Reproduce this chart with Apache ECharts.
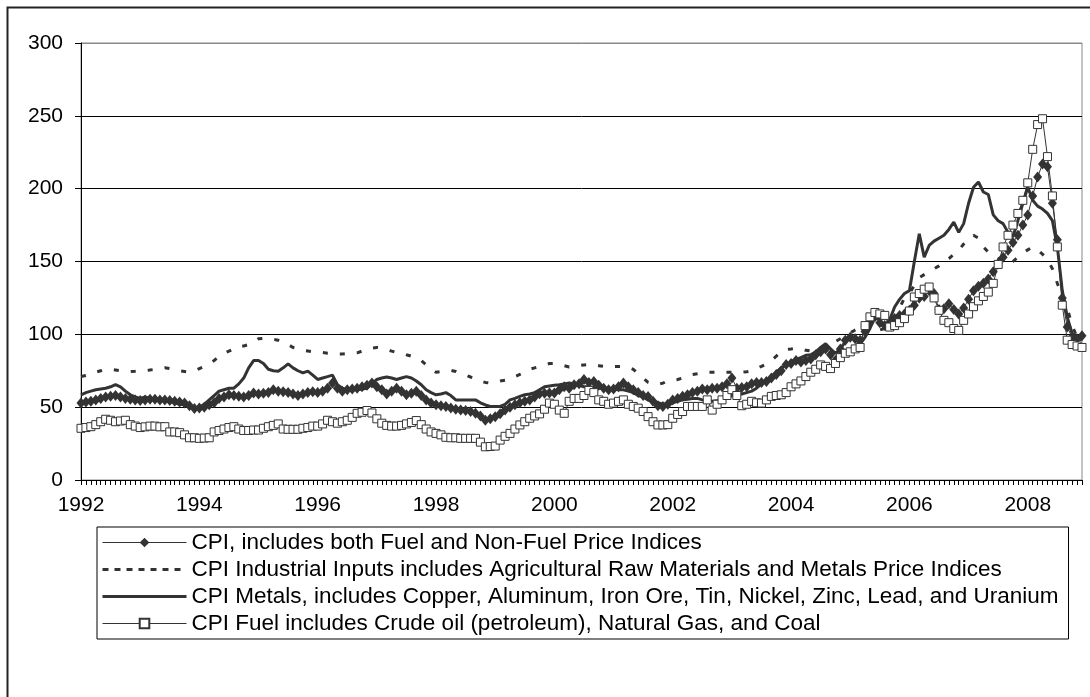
<!DOCTYPE html>
<html>
<head>
<meta charset="utf-8">
<script src="https://cdn.jsdelivr.net/npm/echarts@6/dist/echarts.min.js"></script>
<style>
  html, body { margin: 0; padding: 0; background: #fff; }
  #chart { width: 1090px; height: 697px; }
</style>
</head>
<body>
<div id="chart"></div>
<script>
    // years shown on the axis, one category per month
    var years = [1992, 1993, 1994, 1995, 1996, 1997, 1998, 1999, 2000, 2001, 2002, 2003, 2004, 2005, 2006, 2007, 2008];
    var months = [];
    years.forEach(function (y) {
        for (var m = 1; m <= 12; m++) {
            months.push(y + '-' + (m < 10 ? '0' : '') + m);
        }
    });

    var names = [
        'CPI, includes both Fuel and Non-Fuel Price Indices',
        'CPI Industrial Inputs includes Agricultural Raw Materials and Metals Price Indices',
        'CPI Metals, includes Copper, Aluminum, Iron Ore, Tin, Nickel, Zinc, Lead, and Uranium',
        'CPI Fuel includes Crude oil (petroleum), Natural Gas, and Coal'
    ];

    // one row per year, Jan..Dec
    var cpiAll = [
        52.8, 53.5, 54, 55, 56, 57, 57.5, 58, 57, 56, 55.5, 55,
        54.6, 55, 55.5, 55.5, 55, 55, 54.5, 54, 53.5, 52.8, 51, 49,
        49.5, 50, 51.6, 53, 56, 57, 58.5, 58, 57.5, 57, 58, 59.7,
        59, 59.5, 60, 62, 61, 60.5, 60, 59, 58, 59, 60, 60.5,
        60, 61, 63, 66.6, 63, 61, 62, 62.5, 63, 64, 65, 66.6,
        64, 62, 59, 61, 63, 61, 58.5, 59.5, 61, 58, 55, 52.8,
        51.6, 51, 50.5, 49.5, 48.6, 48, 47.7, 47, 45.8, 44, 41, 42,
        43.5, 45.5, 48, 50, 51.6, 53, 54, 55, 57, 59.2, 59.5, 59.7,
        59.7, 62, 64, 63, 65.4, 66, 69, 67, 67.7, 65, 63, 62,
        62.4, 64, 66.6, 64, 62, 60, 58, 57.4, 54, 51, 50.5, 52,
        55, 56, 57.5, 58.5, 60, 61, 62.4, 62, 63, 63, 64, 66,
        70, 63, 63.5, 64, 66, 67, 67, 67.7, 70, 72.4, 75, 79.3,
        80, 82, 81, 82, 83, 86, 88, 90, 86, 82, 90, 96,
        98, 97, 96, 102, 108, 112, 108, 106, 108, 110.8, 113, 114,
        116.5, 120, 125, 126, 130, 128, 117, 117.6, 121, 117, 114, 118,
        124, 130, 133, 135, 138, 143, 148.5, 153, 157.7, 163, 168, 175,
        182, 195, 208, 217, 215, 190, 165, 125, 105, 98, 97, 99
    ];
    var cpiIndustrial = [
        71, 71.7, 72.5, 74, 75, 76, 76, 75.5, 75, 74.7, 74.5, 74.7,
        75, 75, 75.5, 76, 76.5, 77, 76.5, 76, 75, 74.5, 74, 75,
        76.5, 78, 80, 82, 85, 87, 88.5, 90, 92, 92, 93, 95,
        97, 97.2, 97, 96.5, 96, 95, 93, 91, 90, 89, 88.5, 88,
        87.8, 87.5, 87, 86.8, 86.6, 86.5, 86.8, 87, 87.3, 88.5, 89.5, 90.5,
        91, 90.5, 89.5, 88.5, 87.5, 87.3, 86, 85, 83, 82, 79, 76,
        74, 74.5, 75, 75.3, 74.5, 73, 72, 70.7, 69, 68, 67, 66.6,
        67, 68, 68.5, 69.4, 71, 72.5, 74, 76, 77, 78, 79, 80,
        80, 79, 78.5, 77.6, 78, 78.5, 79, 79.3, 79, 78.5, 78, 78,
        78, 78, 78, 77.5, 76, 73, 70, 67, 66, 65.5, 66.5, 68,
        68.4, 69, 70, 71, 72.4, 73, 73.5, 74, 74, 74, 74, 74,
        74, 74, 74, 74.3, 75, 76.5, 78, 79.7, 82, 85, 88, 89.6,
        90, 90.5, 90, 89, 88.6, 89, 90, 91.5, 93, 95, 97, 99,
        101, 103, 105, 108, 106, 104, 103, 104, 108, 112, 118, 125,
        128, 133.6, 139, 141, 143, 145, 147, 150, 152, 155, 157.7, 162,
        165, 168, 166, 160, 156.5, 154, 152, 150, 148.5, 150, 153, 156,
        158, 160, 158, 155, 151, 145, 135, 127, 118, 106, 98, 96
    ];
    var cpiMetals = [
        58.5, 60, 61, 62, 62.5, 63, 64, 65.5, 64, 61, 58.5, 57,
        56, 57, 56, 55, 55, 54, 54, 53, 52, 51.6, 50, 49,
        50, 52, 55, 58, 61, 62, 63, 63, 66, 70, 77, 82,
        82, 80, 76, 75, 74.7, 77, 79.7, 77, 75, 73.5, 74.7, 72,
        69, 70, 71, 72, 65.4, 63, 62, 62, 62, 62.5, 63, 66,
        69, 70, 70.7, 70, 69, 70, 71, 70, 68, 65.4, 62, 60,
        58.5, 59, 60, 58, 55, 55, 55, 55, 55, 53, 51.5, 50.5,
        50.5, 50.5, 52, 55, 56, 57.4, 58.5, 59, 60, 62, 64, 64.5,
        65, 65.4, 66, 66.6, 66, 65, 64, 64, 63.5, 63, 63, 62.5,
        62.5, 62, 62, 61, 60, 58, 57, 55, 54, 53, 52, 52.5,
        53, 54, 55, 55.5, 56, 56, 55, 54.5, 54, 54.5, 55, 56,
        58, 59, 59, 60, 61, 63, 66, 68, 71, 74, 77, 79,
        81, 83, 84, 85.6, 86, 88, 91, 93.6, 90, 87, 90, 95,
        99, 97, 93.6, 98, 104, 112, 110, 105, 110, 118.8, 124, 128,
        130, 150, 169, 153, 161, 164, 166, 168, 172, 177, 170, 176,
        190, 201, 204.6, 197.7, 196, 182, 178, 176, 170, 167, 178, 190,
        201, 192, 188, 186, 183, 178, 160, 130, 112, 100.5, 98, 96
    ];
    var cpiFuel = [
        35.5, 36, 36.6, 38, 40, 41.7, 41, 40, 40.5, 41, 38, 37,
        36, 36.5, 37, 37, 36.5, 36.6, 33, 33, 32.5, 31, 29, 29,
        28.6, 28.8, 29, 33, 34, 35, 36, 36.6, 35, 34, 34, 34.3,
        34.3, 35.5, 36.6, 37.5, 38.5, 35, 34.8, 34.8, 34.8, 35.5, 36, 37,
        37, 38.5, 41, 40, 39, 40, 41, 43, 45.8, 46.5, 47.7, 46,
        42, 39, 37.5, 37, 37, 37.5, 38.5, 39.5, 40.8, 38, 35, 33,
        32, 31, 29.3, 29, 29, 28.6, 28.6, 28.6, 28.6, 26, 22.8, 23,
        23.3, 27.4, 30, 32, 35, 37.8, 40, 42.4, 44, 45.4, 48.6, 52.8,
        52, 48, 45.8, 54, 56, 56, 58, 61.5, 60, 55, 54, 52,
        52.8, 54, 55, 52, 50.5, 49.3, 47, 43.5, 40, 37.8, 37.8, 38,
        42.4, 45, 47, 50.5, 50.5, 50.5, 50.5, 55, 48, 52, 55, 58,
        62, 58, 51, 52, 54, 53, 52.8, 55, 57.4, 58, 58.5, 60,
        64, 66, 68, 71, 74, 76, 79, 78, 76.5, 80, 84, 87,
        88, 90, 91, 106, 112, 115, 114, 113, 105, 106, 108, 110.8,
        116, 125.6, 128, 131, 132.5, 125, 116.5, 109.6, 108, 104, 102.7, 109.6,
        114, 119, 123, 126, 129, 135, 148, 160, 168, 175, 183, 192,
        204, 227, 244, 248, 222, 195, 160, 120, 96, 93, 92, 91
    ];

    var yTicks = [0, 50, 100, 150, 200, 250, 300];

    var font = 'Liberation Sans, Arial, sans-serif';
    var ink = '#333';

    var chart = echarts.init(document.getElementById('chart'));
    var option = {
        backgroundColor: '#fff',
        animation: false,
        graphic: [{
            type: 'rect',
            shape: { x: 7.5, y: 7.5, width: 1100, height: 700 },
            style: { fill: 'none', stroke: '#222', lineWidth: 2 },
            silent: true
        }],
        grid: {
            left: 81,
            top: 43,
            right: 8,
            bottom: 217,
            show: true,
            borderColor: '#888',
            borderWidth: 1
        },
        legend: {
            orient: 'vertical',
            left: 97,
            top: 527,
            itemWidth: 84,
            itemHeight: 12,
            itemGap: 4,
            padding: [4, 10, 4, 4],
            borderColor: '#000',
            borderWidth: 1,
            textStyle: { fontFamily: font, fontSize: 22.5, color: '#000' },
            data: [
                { name: names[0], lineStyle: { width: 1 } },
                { name: names[1], itemStyle: { opacity: 0 }, lineStyle: { width: 3, type: [6, 6] } },
                { name: names[2], itemStyle: { opacity: 0 }, lineStyle: { width: 3 } },
                { name: names[3], lineStyle: { width: 1 } }
            ]
        },
        xAxis: {
            type: 'category',
            data: months,
            boundaryGap: false,
            axisLine: { lineStyle: { color: '#000', width: 1 } },
            axisTick: { show: true, interval: 0, length: 5, lineStyle: { color: '#000' } },
            axisLabel: {
                interval: function (idx) { return idx % 24 === 0; },
                formatter: function (v) { return v.slice(0, 4); },
                fontFamily: font,
                fontSize: 21,
                color: '#000',
                margin: 15
            },
            splitLine: { show: false }
        },
        yAxis: {
            type: 'value',
            min: yTicks[0],
            max: yTicks[yTicks.length - 1],
            interval: 50,
            axisLine: { show: true, lineStyle: { color: '#000', width: 1 } },
            axisTick: { show: true, length: 6, lineStyle: { color: '#000' } },
            axisLabel: { fontFamily: font, fontSize: 21, color: '#000', margin: 18 },
            splitLine: { lineStyle: { color: ['#000', '#000', '#000', '#000', '#000', '#000', '#888'], width: 1 } }
        },
        series: [{
            name: names[0],
            type: 'line',
            data: cpiAll,
            symbol: 'diamond',
            symbolSize: [9, 11],
            showAllSymbol: true,
            lineStyle: { color: ink, width: 1 },
            itemStyle: { color: ink, borderColor: ink, borderWidth: 0 },
            z: 3
        }, {
            name: names[1],
            type: 'line',
            data: cpiIndustrial,
            showSymbol: false,
            lineStyle: { color: ink, width: 3, type: [5, 12] },
            itemStyle: { color: ink },
            z: 2
        }, {
            name: names[2],
            type: 'line',
            data: cpiMetals,
            showSymbol: false,
            lineStyle: { color: ink, width: 3 },
            itemStyle: { color: ink },
            z: 2
        }, {
            name: names[3],
            type: 'line',
            data: cpiFuel,
            symbol: 'rect',
            symbolSize: 8,
            showAllSymbol: true,
            lineStyle: { color: ink, width: 1 },
            itemStyle: { color: '#fff', borderColor: ink, borderWidth: 1 },
            z: 4
        }]
    };
    chart.setOption(option);
</script>
</body>
</html>
